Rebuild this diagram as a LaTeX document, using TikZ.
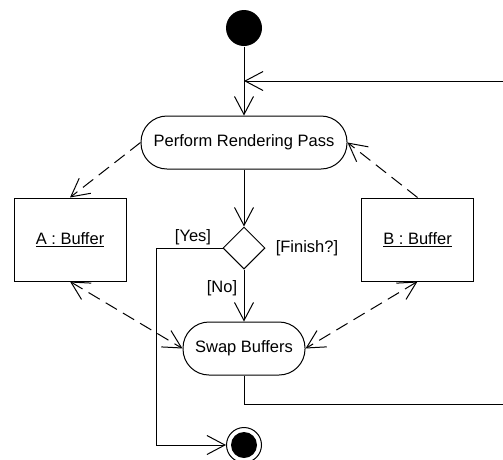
\documentclass[tikz,border=0pt]{standalone}
\usepackage{fontspec}
\setmainfont{Liberation Sans}
\usetikzlibrary{arrows.meta,shapes.geometric}

\begin{document}
\begin{tikzpicture}[x=1pt,y=-1pt,line width=1pt,
    font=\fontsize{16.5}{19}\selectfont,
    >={Straight Barb[length=18pt,width=19pt]},
    act/.style={draw,rounded corners=26pt,minimum height=53pt,inner sep=0pt},
    obj/.style={draw,minimum width=112pt,minimum height=83pt},
    dep/.style={dash pattern=on 13pt off 7pt}]
    \useasboundingbox (0,0) rectangle (503,459);
    \clip (0,0) rectangle (503,459);
%   initial and final states
    \node (start) [circle,fill,minimum size=36pt,inner sep=0pt] at (244,28) {};
    \node (stop) [circle,draw,minimum size=35pt,inner sep=0pt] at (244,445) {};
    \fill (stop) circle (13pt);
%   activities
    \node (render) [act,minimum width=206pt] at (244,142.5) {Perform Rendering Pass};
    \node (swap) [act,minimum width=122pt] at (244,348.5) {Swap Buffers};
    \node (finish) [diamond,draw,minimum size=42pt,inner sep=0pt] at (244,248) {};
%   objects
    \node (bufa) [obj] at (70,239.5) {\underline{A : Buffer}};
    \node (bufb) [obj] at (417.5,239.5) {\underline{B : Buffer}};
%   guards
    \node (yes) at (193,237) {[Yes]};
    \node (no) at (222,288) {[No]};
    \node (fin) at (307,248) {[Finish?]};
    \coordinate (merge) at (244,81);
%   control flow
    \draw [->] (start) -- (render);
    \draw [->] (render) -- (finish);
    \draw [->] (finish) -- (swap);
    \draw [->] (finish.west) -- (156,248) |- (stop);
    \draw [->] (swap) |- (512,404) |- (merge);
%   object flow
    \draw [dep,->] (render.west) -- (bufa.north);
    \draw [dep,->] (bufb.north) -- (render.east);
    \draw [dep,<->] (bufa.south) -- (swap.west);
    \draw [dep,<->] (bufb.south) -- (swap.east);
\end{tikzpicture}
\end{document}
